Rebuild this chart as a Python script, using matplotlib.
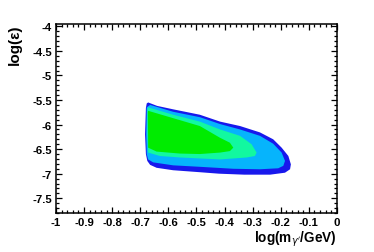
import numpy as np
import matplotlib.pyplot as plt
from matplotlib.ticker import MultipleLocator

plt.rcParams['font.family'] = ['Liberation Sans', 'DejaVu Sans']

# ====================== Contour regions (outer to inner) ======================
outer_x = [-0.672, -0.640, -0.583, -0.488, -0.416, -0.345, -0.274, -0.227, -0.197, -0.173,
           -0.164, -0.167, -0.185, -0.238, -0.330, -0.420, -0.488, -0.583, -0.642, -0.665,
           -0.675, -0.680, -0.683, -0.680, -0.677]
outer_y = [-5.55, -5.62, -5.69, -5.80, -5.94, -6.03, -6.16, -6.30, -6.47, -6.64,
           -6.81, -6.91, -6.98, -7.02, -7.02, -7.00, -6.97, -6.93, -6.88, -6.82,
           -6.74, -6.60, -6.20, -5.66, -5.57]

lblue_x = [-0.665, -0.583, -0.488, -0.416, -0.345, -0.274, -0.227, -0.197, -0.185, -0.191,
           -0.209, -0.274, -0.369, -0.488, -0.583, -0.654, -0.672, -0.677, -0.679, -0.677]
lblue_y = [-5.60, -5.74, -5.85, -5.99, -6.10, -6.23, -6.39, -6.57, -6.74, -6.84,
           -6.89, -6.91, -6.90, -6.86, -6.83, -6.77, -6.71, -6.60, -6.20, -5.65]

aqua_x = [-0.672, -0.583, -0.488, -0.416, -0.345, -0.304, -0.286, -0.292, -0.321, -0.416,
          -0.488, -0.559, -0.630, -0.672, -0.675, -0.675]
aqua_y = [-5.65, -5.80, -5.94, -6.10, -6.23, -6.40, -6.57, -6.64, -6.67, -6.71,
          -6.69, -6.67, -6.64, -6.57, -6.20, -5.70]

green_x = [-0.672, -0.583, -0.488, -0.416, -0.381, -0.369, -0.381, -0.416, -0.488, -0.559,
           -0.642, -0.672, -0.673]
green_y = [-5.72, -5.87, -6.03, -6.27, -6.37, -6.47, -6.54, -6.57, -6.60, -6.59,
           -6.55, -6.47, -5.75]

levels = [(outer_x, outer_y, '#1818ec'),
          (lblue_x, lblue_y, '#06b4fc'),
          (aqua_x, aqua_y, '#12f8a0'),
          (green_x, green_y, '#00ec00')]

# ====================== Plot ======================
fig = plt.figure(figsize=(3.74, 2.53), dpi=100)
ax = fig.add_axes([0.1497, 0.1542, 0.7513, 0.747])

for xs, ys, c in levels:
    ax.fill(xs, ys, color=c, lw=0, antialiased=True)

ax.set_xlim(-1, 0)
ax.set_ylim(-7.8, -3.953)

ax.xaxis.set_major_locator(MultipleLocator(0.1))
ax.xaxis.set_minor_locator(MultipleLocator(0.02))
ax.yaxis.set_major_locator(MultipleLocator(0.5))
ax.yaxis.set_minor_locator(MultipleLocator(0.1))

ax.tick_params(which='both', direction='in', top=True, right=True, width=0.9, colors='black')
ax.tick_params(which='major', length=4.2)
ax.tick_params(which='minor', length=2.0)
ax.tick_params(axis='x', pad=3)
ax.tick_params(axis='y', pad=3)

for spine in ax.spines.values():
    spine.set_linewidth(1.1)

ax.set_xticklabels([f"{v:g}" for v in np.round(ax.get_xticks(), 1)], fontsize=8.2, fontweight='bold')
ax.set_yticklabels([f"{v:g}" for v in np.round(ax.get_yticks(), 1)], fontsize=8.2, fontweight='bold')

ax.set_xlabel(r"log(m$_{\gamma'}$/GeV)", fontsize=9.8, fontweight='bold', loc='right', labelpad=1)
ax.set_ylabel("log(\u03b5)", fontsize=11, fontweight='bold', loc='top', labelpad=7)

fig.savefig('out.png', dpi=100)
